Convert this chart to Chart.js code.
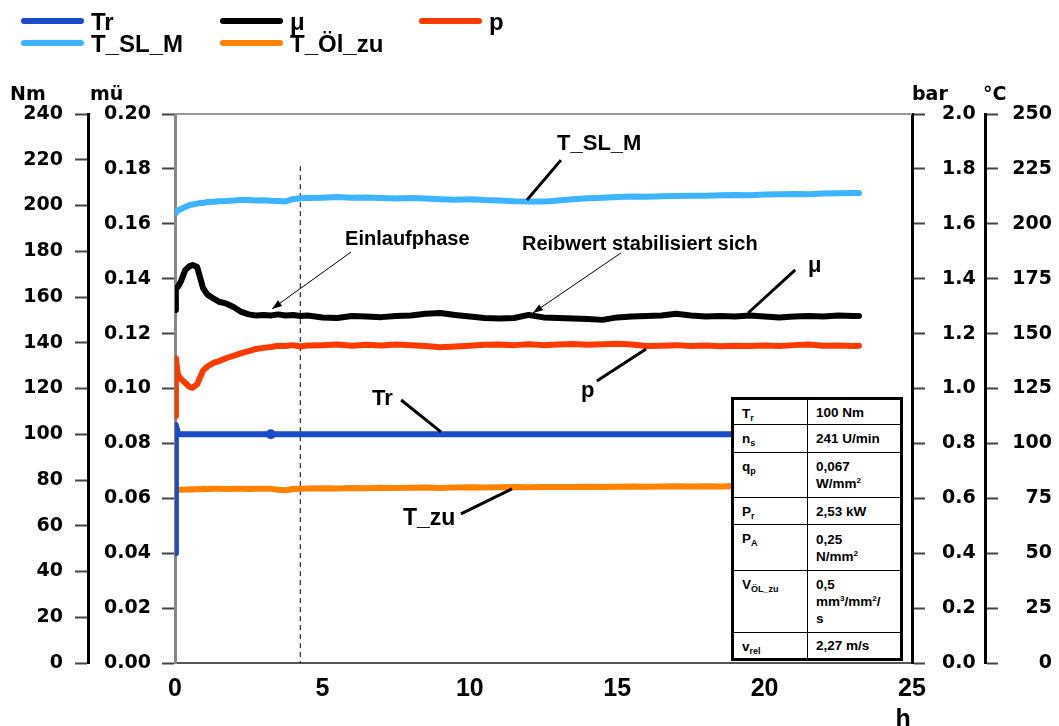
<!DOCTYPE html>
<html>
<head>
<meta charset="utf-8">
<script src="https://cdn.jsdelivr.net/npm/chart.js@4.4.1/dist/chart.umd.min.js"></script>
<style>
html,body{margin:0;padding:0;background:#fff;}
#wrap{position:relative;width:1059px;height:726px;overflow:hidden;}
#info{position:absolute;left:731px;top:397px;}
#info table{border-collapse:collapse;border:3px solid #000;background:#fff;font:bold 13.5px "Liberation Sans",Arial,sans-serif;width:172px;color:#000;}
#info td{border:1px solid #000;padding:0 3px 0 8px;line-height:17px;}
#info td.k{width:62px;vertical-align:top;padding-top:5px;}
#info td.v{vertical-align:middle;}
#info sub{font-size:9px;line-height:0;vertical-align:-3px;}
#info sup{font-size:8px;line-height:0;vertical-align:5px;}
</style>
</head>
<body>
<div id="wrap">
<canvas id="c" width="1059" height="726"></canvas>
<div id="info">
<table>
<tr style="height:26px"><td class="k">T<sub>r</sub></td><td class="v">100 Nm</td></tr>
<tr style="height:28px"><td class="k">n<sub>s</sub></td><td class="v">241 U/min</td></tr>
<tr style="height:45px"><td class="k">q<sub>p</sub></td><td class="v">0,067<br>W/mm<sup>2</sup></td></tr>
<tr style="height:27px"><td class="k">P<sub>r</sub></td><td class="v">2,53 kW</td></tr>
<tr style="height:46px"><td class="k">P<sub>A</sub></td><td class="v">0,25<br>N/mm<sup>2</sup></td></tr>
<tr style="height:62px"><td class="k">V<sub>ÖL_zu</sub></td><td class="v">0,5<br>mm<sup>3</sup>/mm<sup>2</sup>/<br>s</td></tr>
<tr style="height:27px"><td class="k">v<sub>rel</sub></td><td class="v">2,27 m/s</td></tr>
</table>
</div>
</div>
<script>
// ---- data ----
const hours = [0,0.03,0.1,0.2,0.35,0.5,0.6,0.75,0.85,0.95,1.1,1.3,1.5,1.75,2,2.25,2.5,2.75,3,3.25,3.5,3.75,4,4.25,4.5,
  5,5.5,6,6.5,7,7.5,8,8.5,9,9.5,10,10.5,11,11.5,12,12.5,13,13.5,14,14.5,15,15.5,16,16.5,17,17.5,18,18.5,19,19.5,20,20.5,21,21.5,22,22.5,23,23.2];

const torqueNm = [48,104,100.3,100,100,100,100,100,100,100,100,100,100,100,100,100,100,100,100,100,100,100,100,100,100,
  100,100,100,100,100,100,100,100,100,100,100,100,100,100,100,100,100,100,100,100,100,100,100,100,100,100,100,100,100,100,100,100,100,100,100,100,100,100];

const frictionMu = [0.1286,0.1366,0.1370,0.1390,0.1432,0.1446,0.1450,0.1443,0.1405,0.1366,0.1342,0.1328,0.1316,0.1309,0.1296,0.1279,0.1270,0.1266,0.1268,0.1266,0.1270,0.1266,0.1268,0.1264,0.1266,
  0.1259,0.1257,0.1264,0.1262,0.1260,0.1264,0.1266,0.1272,0.1275,0.1268,0.1262,0.1257,0.1255,0.1257,0.1268,0.1259,0.1257,0.1255,0.1253,0.1250,0.1259,0.1262,0.1264,0.1266,0.1272,0.1266,0.1262,0.1264,0.1262,0.1266,0.1262,0.1259,0.1262,0.1264,0.1262,0.1266,0.1264,0.1264];

const pressureBar = [0.90,1.110,1.050,1.035,1.020,1.005,1.003,1.015,1.040,1.065,1.080,1.093,1.100,1.111,1.120,1.129,1.136,1.144,1.148,1.151,1.156,1.155,1.158,1.153,1.157,
  1.158,1.160,1.156,1.159,1.157,1.160,1.158,1.155,1.150,1.153,1.156,1.159,1.160,1.158,1.161,1.158,1.160,1.162,1.159,1.161,1.163,1.160,1.155,1.156,1.158,1.155,1.157,1.154,1.156,1.155,1.157,1.155,1.158,1.160,1.156,1.157,1.155,1.156];

const tempSLM = [204.9,205.5,206.0,206.8,207.7,208.6,208.8,209.2,209.5,209.5,209.9,210.0,210.3,210.4,210.6,210.8,210.8,210.6,210.7,210.5,210.4,210.2,211.2,211.6,211.7,
  211.9,212.2,211.9,212.0,211.7,211.5,211.8,211.5,211.2,211.0,211.2,210.8,210.6,210.3,210.2,210.1,210.6,211.2,211.6,211.9,212.2,212.4,212.3,212.6,212.7,212.8,212.8,213.0,213.1,213.0,213.3,213.4,213.6,213.5,213.8,213.9,214.0,214.0];

const tempOilIn = [78.3,79.6,78.8,78.9,79.0,79.1,79.0,79.2,79.1,79.3,79.2,79.4,79.3,79.2,79.3,79.4,79.2,79.3,79.4,79.3,78.9,78.7,79.2,79.4,79.5,
  79.6,79.5,79.7,79.6,79.8,79.7,79.8,79.9,79.7,79.9,80.0,79.9,80.0,80.1,80.0,80.2,80.1,80.2,80.3,80.2,80.3,80.4,80.3,80.4,80.5,80.4,80.5,80.4,80.6,80.5,80.6,80.5,80.6,80.7,80.6,80.7,80.6,80.6];

const seriesNames = ['Tr','μ','p','T_SL_M','T_Öl_zu'];
const axisTitles = ['Nm','mü','bar','°C'];
const markerHour = 3.25;   // round marker on the Tr line
const phaseEndHour = 4.25; // dashed line (end of run-in phase)

// ---- styles ----
const COL = {Tr:'#1b4cc8', mu:'#000000', p:'#ff3a00', slm:'#3cb4ff', oil:'#ff8200'};
const TICKFONT = {family:'DejaVu Sans', size:19, weight:'bold'};

function series(label, ys, axis, color, extra){
  return Object.assign({
    label, yAxisID: axis,
    data: hours.map((h,i)=>({x:h, y:ys[i]})),
    borderColor: color, backgroundColor: color,
    borderWidth: 6, pointRadius: 0, tension: 0, fill:false,
    borderJoinStyle:'round', borderCapStyle:'round'
  }, extra||{});
}

const datasets = [
  series(seriesNames[0], torqueNm, 'nm', COL.Tr, {
    pointRadius: c => hours[c.dataIndex] === markerHour ? 5 : 0,
    pointBackgroundColor: COL.Tr, pointBorderColor: COL.Tr, pointBorderWidth: 0
  }),
  series(seriesNames[1], frictionMu, 'mu', COL.mu),
  series(seriesNames[2], pressureBar, 'bar', COL.p),
  series(seriesNames[3], tempSLM, 'degc', COL.slm),
  series(seriesNames[4], tempOilIn, 'degc', COL.oil)
];

// annotations, in (hours, mü) coordinates
const labels = [
  {text:'T_SL_M', t:12.96, mu:0.1869, size:22},
  {text:'Einlaufphase', t:5.77, mu:0.1523, size:20},
  {text:'Reibwert stabilisiert sich', t:11.77, mu:0.1505, size:20},
  {text:'μ', t:21.47, mu:0.1424, size:22},
  {text:'p', t:13.77, mu:0.0969, size:22},
  {text:'Tr', t:6.68, mu:0.0940, size:22},
  {text:'T_zu', t:7.73, mu:0.0503, size:23}
];
const leaders = [
  [11.94,0.1687, 13.09,0.1832],
  [19.44,0.1275, 21.04,0.1432],
  [15.98,0.1144, 14.31,0.1027],
  [9.02,0.0842, 7.67,0.0958],
  [11.43,0.0634, 9.70,0.0543]
];
const arrows = [
  [5.97,0.1497, 3.29,0.1290],
  [15.13,0.1494, 12.14,0.1275]
];

function yAxis(pos, weight, min, max, step, width, borderColor, tickPad, fmt, align){
  return {
    type:'linear', position:pos, weight, min, max,
    afterFit: s => { s.width = width; },
    border:{display:true, color:borderColor, width:3},
    grid:{drawOnChartArea:false, drawTicks:true, tickLength:13, color:'#444', tickWidth:2, tickColor:'#444'},
    ticks:{stepSize:step, autoSkip:false, padding:tickPad, color:'#000', font:TICKFONT, callback:fmt, crossAlign:align||'near'}
  };
}

const deco = {
  id:'deco',
  beforeDatasetsDraw(chart){
    const {ctx, chartArea:a, scales} = chart;
    ctx.save();
    ctx.strokeStyle = '#999'; ctx.lineWidth = 2;
    ctx.beginPath(); ctx.moveTo(a.left, a.top); ctx.lineTo(a.right, a.top); ctx.stroke();
    const xd = scales.x.getPixelForValue(phaseEndHour);
    ctx.strokeStyle = '#000'; ctx.lineWidth = 1; ctx.setLineDash([5,4]);
    ctx.beginPath(); ctx.moveTo(xd, scales.mu.getPixelForValue(0.181)); ctx.lineTo(xd, a.bottom); ctx.stroke();
    ctx.restore();
  },
  afterDatasetsDraw(chart){
    const {ctx, scales} = chart;
    const P = (t,m) => [scales.x.getPixelForValue(t), scales.mu.getPixelForValue(m)];
    ctx.save();
    ctx.strokeStyle = '#000'; ctx.fillStyle = '#000';
    ctx.lineWidth = 3; ctx.lineCap = 'butt';
    leaders.forEach(l => {
      const [x1,y1] = P(l[0],l[1]), [x2,y2] = P(l[2],l[3]);
      ctx.beginPath(); ctx.moveTo(x1,y1); ctx.lineTo(x2,y2); ctx.stroke();
    });
    ctx.lineWidth = 1;
    arrows.forEach(l => {
      const [x1,y1] = P(l[0],l[1]), [x2,y2] = P(l[2],l[3]);
      ctx.beginPath(); ctx.moveTo(x1,y1); ctx.lineTo(x2,y2); ctx.stroke();
      const a = Math.atan2(y2-y1, x2-x1), L = 10, W = 3.5;
      ctx.beginPath(); ctx.moveTo(x2,y2);
      ctx.lineTo(x2 - L*Math.cos(a) + W*Math.sin(a), y2 - L*Math.sin(a) - W*Math.cos(a));
      ctx.lineTo(x2 - L*Math.cos(a) - W*Math.sin(a), y2 - L*Math.sin(a) + W*Math.cos(a));
      ctx.closePath(); ctx.fill();
    });
    ctx.textAlign = 'left'; ctx.textBaseline = 'alphabetic';
    labels.forEach(l => {
      const [x,y] = P(l.t, l.mu);
      ctx.font = 'bold ' + l.size + 'px "Liberation Sans", Arial, sans-serif';
      ctx.fillText(l.text, x, y);
    });
    ctx.restore();
  },
  afterDraw(chart){
    const {ctx, scales} = chart;
    ctx.save();
    // legend
    const cols = [21, 220, 419], rows = [21, 43];
    const colors = [COL.Tr, COL.mu, COL.p, COL.slm, COL.oil];
    ctx.font = 'bold 24px "Liberation Sans", Arial, sans-serif';
    ctx.textBaseline = 'middle'; ctx.textAlign = 'left';
    seriesNames.forEach((n,i) => {
      const x = cols[i%3], y = rows[Math.floor(i/3)];
      ctx.strokeStyle = colors[i]; ctx.lineWidth = 6; ctx.lineCap = 'round';
      ctx.beginPath(); ctx.moveTo(x+3, y); ctx.lineTo(x+60, y); ctx.stroke();
      ctx.fillStyle = '#000'; ctx.fillText(n, x+70, y+2);
    });
    // axis titles
    ctx.textBaseline = 'alphabetic';
    ctx.font = 'bold 19px "DejaVu Sans", sans-serif';
    const titleX = [10, 90, 912, 983];
    axisTitles.forEach((t,i) => ctx.fillText(t, titleX[i], 100));
    // x unit
    ctx.font = 'bold 25px "Liberation Sans", Arial, sans-serif';
    ctx.textAlign = 'center';
    ctx.fillText('h', scales.x.getPixelForValue(24.7), 727);
    ctx.restore();
  }
};

new Chart(document.getElementById('c'), {
  type:'line',
  data:{datasets},
  plugins:[deco],
  options:{
    responsive:false, animation:false, devicePixelRatio:1,
    layout:{padding:{top:114, left:0, right:7, bottom:0}},
    plugins:{legend:{display:false}, tooltip:{enabled:false}},
    scales:{
      x:{
        type:'linear', min:0, max:25,
        afterFit: s => { s.height = 63; },
        border:{display:true, color:'#555', width:2},
        grid:{drawOnChartArea:false, drawTicks:false},
        ticks:{stepSize:5, padding:11, color:'#000', font:{family:'Liberation Sans', size:25, weight:'bold'}}
      },
      nm:   yAxis('left', 2, 0, 240, 20, 88, '#000', 12, v => String(v)),
      mu:   yAxis('left', 1, 0, 0.2, 0.02, 87, '#888', 11, v => v.toFixed(2)),
      bar:  yAxis('right', 1, 0, 2.0, 0.2, 73, '#000', 17, v => v.toFixed(1)),
      degc: yAxis('right', 2, 0, 250, 25, 67, '#000', 15, v => String(v), 'far')
    }
  }
});
</script>
</body>
</html>
